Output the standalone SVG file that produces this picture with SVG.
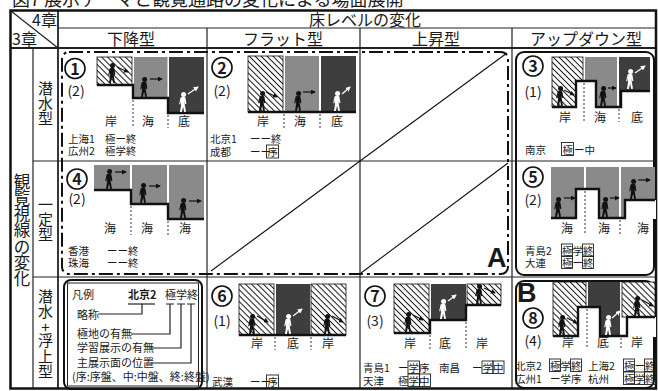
<svg xmlns="http://www.w3.org/2000/svg" width="658" height="391" viewBox="0 0 658 391">
<style>
text{font-family:"Noto Sans CJK JP","Noto Sans",sans-serif;fill:#1a1a1a}
.ttl{font-size:18px}
.hd{font-size:16px}
.hdc{font-size:16px;text-anchor:middle}
.vt{font-size:16.5px;text-anchor:middle}
.rl{font-size:15px;text-anchor:middle}
.num{font-size:16px;font-weight:bold;text-anchor:middle}
.cnt{font-size:14px;text-anchor:middle}
.lb{font-size:12px;text-anchor:middle}
.ct{font-size:10.5px}
.lg{font-size:11px}
.big{font-size:27px;font-weight:bold;font-family:"Liberation Sans",sans-serif}
.grid{stroke:#222;stroke-width:1.2;fill:none}
.frame{stroke:#111;stroke-width:2.5;fill:none}
.hatch{fill:url(#hatch);stroke:#111;stroke-width:0.8}
.gray{fill:#8a8a8a}
.dark{fill:#3e3e3e}
.under{fill:#fff}
.floor{fill:none;stroke:#111;stroke-width:2.4}
.sep{stroke:#333;stroke-width:1;stroke-dasharray:2 2}
.ar{stroke:#111;stroke-width:1.2;marker-end:url(#ah)}
.arw{stroke:#fff;stroke-width:1.2;marker-end:url(#ahw)}
.circ{fill:#fff;stroke:#111;stroke-width:1.6}
.bx{fill:none;stroke:#222;stroke-width:0.9}
.ln{fill:none;stroke:#222;stroke-width:1.2}
.diag{stroke:#111;stroke-width:1.1}
.zoneA{fill:none;stroke:#111;stroke-width:2;stroke-dasharray:14 4 3 4}
.zone{fill:none;stroke:#111;stroke-width:2}
</style>
<defs>
  <pattern id="hatch" width="4.2" height="4.2" patternUnits="userSpaceOnUse" patternTransform="rotate(-45)">
    <rect width="4.2" height="4.2" fill="#fff"/>
    <line x1="2.1" y1="0" x2="2.1" y2="4.2" stroke="#111" stroke-width="1"/>
  </pattern>
  <marker id="ah" viewBox="0 0 6 6" refX="5" refY="3" markerWidth="5" markerHeight="5" orient="auto" markerUnits="userSpaceOnUse">
    <path d="M0,0 L6,3 L0,6 Z" fill="#111"/>
  </marker>
  <marker id="ahw" viewBox="0 0 6 6" refX="5" refY="3" markerWidth="5" markerHeight="5" orient="auto" markerUnits="userSpaceOnUse">
    <path d="M0,0 L6,3 L0,6 Z" fill="#fff"/>
  </marker>
  <!-- walking visitor silhouette, feet at origin -->
  <g id="man">
    <circle cx="0.6" cy="-17.4" r="2.5"/>
    <path d="M-2.4,-14.6 C-1.2,-15.4 1.4,-15.4 2.4,-14.4 L3.4,-8.2 L2.2,-7.8 L1.6,-11 L1.8,-7 L3,-0.2 L1.2,0 L0.1,-5.2 L-1.2,0 L-3,0 L-1.9,-7.2 L-2,-11 L-2.7,-7.6 L-3.8,-8 Z"/>
  </g>
</defs>

<rect width="658" height="391" fill="#fff"/>

<!-- caption -->
<text class="ttl" x="12" y="6">図7 展示テーマと観覧通路の変化による場面展開</text>

<!-- table grid -->
<g id="grid">
  <line class="grid" x1="58" y1="28" x2="656" y2="28"/>
  <line class="grid" x1="10" y1="48" x2="656" y2="48" style="stroke-width:1.8"/>
  <line class="grid" x1="58" y1="10" x2="58" y2="388" style="stroke-width:1.8"/>
  <line class="grid" x1="33" y1="48" x2="33" y2="388"/>
  <line class="grid" x1="207" y1="28" x2="207" y2="388"/>
  <line class="grid" x1="360" y1="28" x2="360" y2="388"/>
  <line class="grid" x1="512" y1="28" x2="512" y2="388"/>
  <line class="grid" x1="33" y1="161" x2="656" y2="161"/>
  <line class="grid" x1="33" y1="277" x2="656" y2="277"/>
  <line class="grid" x1="11" y1="11" x2="58" y2="48"/>
  <rect class="frame" x="10.5" y="10.5" width="645.5" height="378"/>
</g>

<!-- header -->
<g id="header">
  <text class="hd" x="57" y="26" text-anchor="end">4章</text>
  <text class="hd" x="12" y="45">3章</text>
  <text class="hdc" x="365" y="26">床レベルの変化</text>
  <text class="hdc" x="131" y="45">下降型</text>
  <text class="hdc" x="283" y="45">フラット型</text>
  <text class="hdc" x="436" y="45">上昇型</text>
  <text class="hdc" x="586" y="45">アップダウン型</text>
  <text class="vt" x="22" y="187.5">観</text><text class="vt" x="22" y="203.8">覧</text><text class="vt" x="22" y="220.1">視</text><text class="vt" x="22" y="236.4">線</text><text class="vt" x="22" y="252.7">の</text><text class="vt" x="22" y="269">変</text><text class="vt" x="22" y="285.3">化</text>
  <text class="rl" x="45.5" y="94">潜</text><text class="rl" x="45.5" y="109">水</text><text class="rl" x="45.5" y="124">型</text>
  <text class="rl" x="45.5" y="210">一</text><text class="rl" x="45.5" y="225">定</text><text class="rl" x="45.5" y="240">型</text>
  <text class="rl" x="45.5" y="301.5">潜</text><text class="rl" x="45.5" y="316.5">水</text><text class="rl" x="45.5" y="332.5">+</text><text class="rl" x="45.5" y="345.5">浮</text><text class="rl" x="45.5" y="361.5">上</text><text class="rl" x="45.5" y="376.5">型</text>
</g>

<!-- group outlines -->
<g id="zones">
  <rect class="zoneA" x="62" y="52" width="446" height="222" rx="7"/>
  <line class="diag" x1="360" y1="161" x2="507" y2="53"/>
  <line class="diag" x1="360" y1="161" x2="211" y2="271"/>
  <line class="diag" x1="361" y1="273" x2="508" y2="163"/>
  <text class="big" x="487" y="267">A</text>
  <rect class="zone" x="516" y="52" width="138" height="223" rx="8"/>
  <rect class="zone" x="516" y="281" width="138" height="107" rx="8"/>
  <text class="big" x="517" y="302">B</text>
</g>

<!-- 1 -->
<g id="case-1">
  <circle class="circ" cx="75" cy="68.5" r="10"/><text class="num" x="75" y="74.5">1</text>
  <text class="cnt" x="76" y="96">(2)</text>
  <rect class="hatch" x="97" y="57" width="35" height="28"/>
  <rect class="gray" x="134" y="57" width="33.5" height="41"/>
  <rect class="dark" x="169" y="57" width="35" height="56"/>
  <path class="floor" d="M97,85H133V98H168V113H204"/>
  <line class="sep" x1="133" y1="100" x2="133" y2="128"/>
  <line class="sep" x1="168" y1="115" x2="168" y2="128"/>
  <use href="#man" x="112" y="83" fill="#111"/><line class="ar" x1="117" y1="67" x2="128" y2="72"/>
  <use href="#man" x="144" y="97" fill="#111"/><line class="ar" x1="150" y1="79" x2="162" y2="79"/>
  <use href="#man" x="183" y="112" fill="#fff"/><line class="arw" x1="188" y1="94" x2="198" y2="87"/>
  <text class="lb" x="111" y="126">岸</text><text class="lb" x="148" y="126">海</text><text class="lb" x="184" y="126">底</text>
  <text class="ct" x="68" y="143">上海1</text><text class="ct" x="105" y="143">極ー終</text>
  <text class="ct" x="68" y="155">広州2</text><text class="ct" x="105" y="155">極学終</text>
</g>

<!-- 2 -->
<g id="case-2">
  <circle class="circ" cx="222" cy="67.5" r="10"/><text class="num" x="222" y="73.5">2</text>
  <text class="cnt" x="222" y="96">(2)</text>
  <rect class="hatch" x="248" y="56" width="35" height="56"/>
  <rect class="gray" x="285" y="56" width="34" height="56"/>
  <rect class="dark" x="321" y="56" width="35" height="56"/>
  <path class="floor" d="M248,112H356"/>
  <line class="sep" x1="284" y1="114" x2="284" y2="128"/>
  <line class="sep" x1="320" y1="114" x2="320" y2="128"/>
  <use href="#man" x="262" y="111" fill="#111"/><line class="ar" x1="266" y1="92" x2="277" y2="97"/>
  <use href="#man" x="298" y="111" fill="#111"/><line class="ar" x1="303" y1="92" x2="315" y2="92"/>
  <use href="#man" x="337" y="111" fill="#fff"/><line class="arw" x1="342" y1="94" x2="350" y2="87"/>
  <text class="lb" x="263" y="126">岸</text><text class="lb" x="300" y="126">海</text><text class="lb" x="337" y="126">底</text>
  <text class="ct" x="210" y="143">北京1</text><text class="ct" x="250" y="143">ーー終</text>
  <text class="ct" x="210" y="156">成都</text><text class="ct" x="250" y="156">ーー</text><text class="ct" x="267.5" y="156">序</text>
  <rect class="bx" x="266.5" y="145" width="12" height="13"/>
</g>

<!-- 3 -->
<g id="case-3">
  <circle class="circ" cx="533" cy="66" r="10"/><text class="num" x="533" y="72">3</text>
  <text class="cnt" x="533" y="97">(1)</text>
  <rect class="hatch" x="552" y="57" width="31" height="50"/>
  <rect class="gray" x="585" y="57" width="32" height="50"/>
  <rect class="dark" x="619" y="57" width="31" height="50"/>
  <path class="under" d="M576,108V81H596V108Z M621,108V91H651V108Z"/>
  <path class="floor" d="M552,107H576V81H596V107H621V91H650"/>
  <line class="sep" x1="584" y1="83" x2="584" y2="122"/>
  <line class="sep" x1="619" y1="109" x2="619" y2="122"/>
  <use href="#man" x="560" y="106" fill="#111"/><line class="ar" x1="564" y1="90" x2="574" y2="95"/>
  <use href="#man" x="603" y="106" fill="#111"/><line class="ar" x1="608" y1="88" x2="616" y2="88"/>
  <use href="#man" x="630" y="89" fill="#fff"/><line class="arw" x1="635" y1="73" x2="645" y2="66"/>
  <text class="lb" x="565" y="122">岸</text><text class="lb" x="600" y="122">海</text><text class="lb" x="637" y="122">底</text>
  <text class="ct" x="525" y="154">南京</text><text class="ct" x="562.5" y="154">極</text><text class="ct" x="574" y="154">ー中</text>
  <rect class="bx" x="561.5" y="142.5" width="12" height="13"/>
</g>

<!-- 4 -->
<g id="case-4">
  <circle class="circ" cx="77" cy="179" r="10"/><text class="num" x="77" y="185">4</text>
  <text class="cnt" x="77" y="204">(2)</text>
  <rect class="gray" x="94" y="165" width="36" height="25"/>
  <rect class="gray" x="132" y="165" width="35" height="39"/>
  <rect class="gray" x="169" y="165" width="35" height="54"/>
  <path class="floor" d="M94,190H131V204H168V219H204"/>
  <line class="sep" x1="131" y1="206" x2="131" y2="235"/>
  <line class="sep" x1="168" y1="221" x2="168" y2="235"/>
  <use href="#man" x="109" y="189" fill="#111"/><line class="ar" x1="115" y1="172" x2="126" y2="172"/>
  <use href="#man" x="143" y="203" fill="#111"/><line class="ar" x1="149" y1="186" x2="160" y2="186"/>
  <use href="#man" x="183" y="218" fill="#111"/><line class="ar" x1="189" y1="201" x2="201" y2="201"/>
  <text class="lb" x="110" y="233">海</text><text class="lb" x="147" y="233">海</text><text class="lb" x="185" y="233">海</text>
  <text class="ct" x="68" y="255">香港</text><text class="ct" x="107" y="255">ーー終</text>
  <text class="ct" x="68" y="267">珠海</text><text class="ct" x="107" y="267">ーー終</text>
</g>

<!-- 5 -->
<g id="case-5">
  <circle class="circ" cx="533" cy="177" r="10"/><text class="num" x="533" y="183">5</text>
  <text class="cnt" x="533" y="205">(2)</text>
  <rect class="gray" x="551" y="167" width="33" height="51"/>
  <rect class="gray" x="586" y="167" width="33" height="51"/>
  <rect class="gray" x="621" y="167" width="34" height="51"/>
  <path class="under" d="M576,219V189H599V219Z M625,219V200H656V219Z"/>
  <path class="floor" d="M551,218H576V189H599V218H625V200H655"/>
  <line class="sep" x1="585" y1="191" x2="585" y2="235"/>
  <line class="sep" x1="620" y1="220" x2="620" y2="235"/>
  <use href="#man" x="558" y="217" fill="#111"/><line class="ar" x1="564" y1="198" x2="575" y2="198"/>
  <use href="#man" x="605" y="217" fill="#111"/><line class="ar" x1="610" y1="198" x2="619" y2="198"/>
  <use href="#man" x="633" y="199" fill="#111"/><line class="ar" x1="638" y1="180" x2="650" y2="180"/>
  <text class="lb" x="567" y="233">海</text><text class="lb" x="604" y="233">海</text><text class="lb" x="643" y="233">海</text>
  <text class="ct" x="525" y="255">青島2</text><text class="ct" x="562" y="255">極学終</text>
  <rect class="bx" x="561.5" y="244" width="11" height="12.5"/><rect class="bx" x="582.5" y="244" width="11" height="12.5"/>
  <text class="ct" x="525" y="267">大連</text><text class="ct" x="562" y="267">極ー終</text>
  <rect class="bx" x="561.5" y="256" width="11" height="12.5"/><rect class="bx" x="582.5" y="256" width="11" height="12.5"/>
</g>

<!-- 6 -->
<g id="case-6">
  <circle class="circ" cx="222" cy="296" r="10"/><text class="num" x="222" y="302">6</text>
  <text class="cnt" x="222" y="326">(1)</text>
  <rect class="hatch" x="239" y="284" width="35" height="51"/>
  <rect class="dark" x="276" y="284" width="34" height="51"/>
  <rect class="hatch" x="311" y="284" width="35" height="51"/>
  <path class="floor" d="M239,335H346"/>
  <line class="sep" x1="275" y1="337" x2="275" y2="350"/>
  <line class="sep" x1="311" y1="337" x2="311" y2="350"/>
  <use href="#man" x="252" y="334" fill="#111"/><line class="ar" x1="257" y1="316" x2="268" y2="322"/>
  <use href="#man" x="288" y="334" fill="#fff"/><line class="arw" x1="293" y1="316" x2="302" y2="309"/>
  <use href="#man" x="327" y="334" fill="#111"/><line class="ar" x1="332" y1="316" x2="343" y2="322"/>
  <text class="lb" x="257" y="348">岸</text><text class="lb" x="293" y="348">底</text><text class="lb" x="328" y="348">岸</text>
  <text class="ct" x="212" y="386">武漢</text><text class="ct" x="250" y="386">ーー</text><text class="ct" x="267.5" y="386">序</text>
  <rect class="bx" x="266.5" y="375" width="12" height="13"/>
</g>

<!-- 7 -->
<g id="case-7">
  <circle class="circ" cx="375" cy="296" r="10"/><text class="num" x="375" y="302">7</text>
  <text class="cnt" x="375" y="326">(3)</text>
  <rect class="hatch" x="394" y="284" width="35" height="49"/>
  <rect class="dark" x="431" y="284" width="35" height="36"/>
  <rect class="hatch" x="467" y="284" width="34" height="21"/>
  <path class="floor" d="M394,333H430V320H466V305H501"/>
  <line class="sep" x1="430" y1="335" x2="430" y2="350"/>
  <line class="sep" x1="466" y1="322" x2="466" y2="350"/>
  <use href="#man" x="408" y="332" fill="#111"/><line class="ar" x1="413" y1="315" x2="423" y2="320"/>
  <use href="#man" x="443" y="319" fill="#fff"/><line class="arw" x1="448" y1="301" x2="456" y2="295"/>
  <use href="#man" x="479" y="304" fill="#111"/><line class="ar" x1="484" y1="288" x2="495" y2="293"/>
  <text class="lb" x="410" y="348">岸</text><text class="lb" x="445" y="348">底</text><text class="lb" x="482" y="348">岸</text>
  <text class="ct" x="363" y="372">青島1</text><text class="ct" x="398" y="372">ー学序</text>
  <rect class="bx" x="408" y="361" width="11.5" height="12.5"/>
  <text class="ct" x="439" y="372">南昌</text><text class="ct" x="472" y="372">ー学中</text>
  <rect class="bx" x="482" y="361" width="11" height="12.5"/><rect class="bx" x="493" y="361" width="11" height="12.5"/>
  <text class="ct" x="363" y="385">天津</text><text class="ct" x="398" y="385">極学中</text>
  <rect class="bx" x="408" y="374" width="11.5" height="12.5"/><rect class="bx" x="419.5" y="374" width="11" height="12.5"/>
</g>

<!-- 8 -->
<g id="case-8">
  <circle class="circ" cx="533" cy="318" r="10"/><text class="num" x="533" y="324">8</text>
  <text class="cnt" x="533" y="346">(4)</text>
  <rect class="hatch" x="553" y="282" width="33" height="54"/>
  <rect class="dark" x="588" y="282" width="32" height="54"/>
  <rect class="hatch" x="622" y="282" width="33" height="35"/>
  <path class="under" d="M578,337V307H600V337Z M627,337V317H656V337Z"/>
  <path class="floor" d="M553,336H578V307H600V336H627V317H655"/>
  <line class="sep" x1="587" y1="309" x2="587" y2="348"/>
  <line class="sep" x1="621" y1="338" x2="621" y2="348"/>
  <use href="#man" x="562" y="335" fill="#111"/><line class="ar" x1="567" y1="318" x2="577" y2="323"/>
  <use href="#man" x="608" y="335" fill="#fff"/><line class="arw" x1="612" y1="318" x2="620" y2="311"/>
  <use href="#man" x="637" y="316" fill="#111"/><line class="ar" x1="642" y1="300" x2="653" y2="306"/>
  <text class="lb" x="568" y="347">岸</text><text class="lb" x="603" y="347">底</text><text class="lb" x="637" y="347">岸</text>
  <text class="ct" x="515" y="370">北京2</text><text class="ct" x="550" y="370">極学終</text>
  <rect class="bx" x="549.5" y="359" width="11" height="12.5"/><rect class="bx" x="570.5" y="359" width="11" height="12.5"/>
  <text class="ct" x="588" y="370">上海2</text><text class="ct" x="624" y="370">極ー終</text>
  <rect class="bx" x="623.5" y="359" width="11" height="12.5"/><rect class="bx" x="644.5" y="359" width="11" height="12.5"/>
  <text class="ct" x="515" y="383">広州1</text><text class="ct" x="550" y="383">ー学序</text>
  <text class="ct" x="588" y="383">杭州</text><text class="ct" x="624" y="383">極学終</text>
  <rect class="bx" x="623.5" y="372" width="11" height="12.5"/><rect class="bx" x="634.5" y="372" width="10" height="12.5"/><rect class="bx" x="644.5" y="372" width="11" height="12.5"/>
</g>

<!-- legend -->
<g id="legend">
  <rect class="zone" x="64" y="280" width="138" height="109" rx="7"/>
  <rect class="ln" x="67.5" y="283" width="131" height="103" style="stroke-width:1"/>
  <text class="lg" x="72" y="299">凡例</text>
  <text class="lg" x="128" y="299" font-weight="bold">北京2</text>
  <line class="ln" x1="128" y1="304" x2="155" y2="304"/>
  <text class="lg" x="165" y="299">極学終</text>
  <path class="ln" d="M166,304H174M177,304H185M187,304H195"/>
  <text class="lg" x="77" y="319">略称</text>
  <path class="ln" d="M98,314H142V304"/>
  <text class="lg" x="77" y="338">極地の有無</text>
  <path class="ln" d="M131,334H170V304"/>
  <text class="lg" x="77" y="352">学習展示の有無</text>
  <path class="ln" d="M150,348H181V304"/>
  <text class="lg" x="77" y="367">主展示面の位置</text>
  <path class="ln" d="M152,363H191V304"/>
  <text class="lg" x="72" y="381">(序:序盤、中:中盤、終:終盤)</text>
</g>
</svg>
